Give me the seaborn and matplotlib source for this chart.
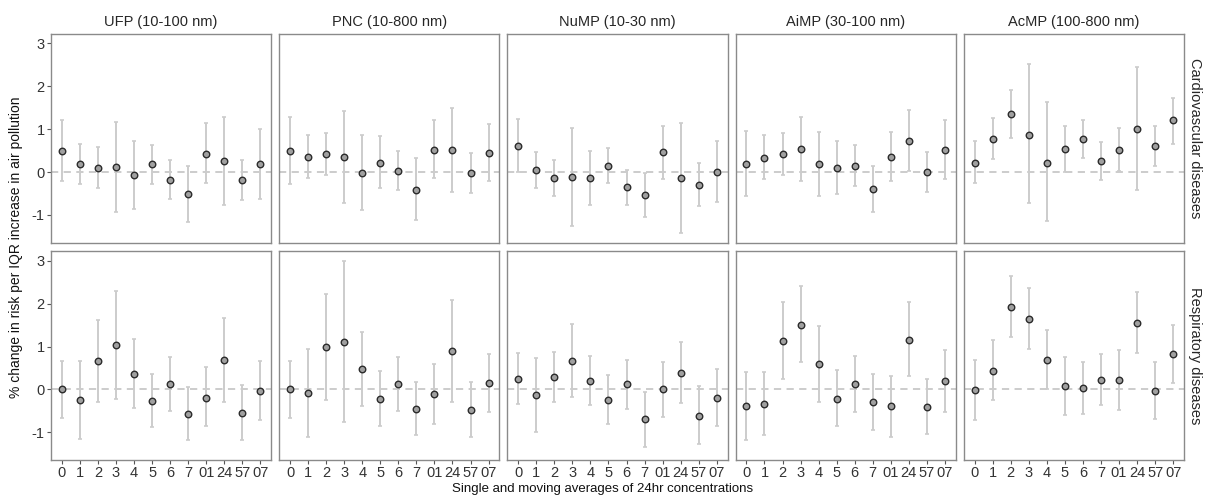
import pandas as pd
import seaborn as sns
from matplotlib import pyplot as plt

# lags (single day and moving averages)
lags = ["0", "1", "2", "3", "4", "5", "6", "7", "01", "24", "57", "07"]
pollutants = ["UFP (10-100 nm)", "PNC (10-800 nm)", "NuMP (10-30 nm)", "AiMP (30-100 nm)", "AcMP (100-800 nm)"]
outcomes = ["Cardiovascular diseases", "Respiratory diseases"]

# cardiovascular: estimate, lower, upper
ufp_cvd_est = [0.49, 0.18, 0.09, 0.12, -0.08, 0.18, -0.18, -0.52, 0.43, 0.25, -0.19, 0.19]
ufp_cvd_lo = [-0.22, -0.29, -0.37, -0.92, -0.86, -0.28, -0.62, -1.17, -0.25, -0.77, -0.65, -0.62]
ufp_cvd_hi = [1.22, 0.66, 0.57, 1.17, 0.72, 0.63, 0.28, 0.14, 1.13, 1.28, 0.27, 1.01]

pnc_cvd_est = [0.49, 0.35, 0.42, 0.35, -0.02, 0.22, 0.02, -0.41, 0.51, 0.52, -0.02, 0.44]
pnc_cvd_lo = [-0.29, -0.13, -0.08, -0.71, -0.89, -0.38, -0.43, -1.12, -0.15, -0.46, -0.48, -0.22]
pnc_cvd_hi = [1.27, 0.85, 0.90, 1.42, 0.86, 0.83, 0.49, 0.32, 1.20, 1.50, 0.44, 1.11]

nump_cvd_est = [0.60, 0.04, -0.13, -0.12, -0.15, 0.14, -0.35, -0.54, 0.46, -0.15, -0.30, 0.00]
nump_cvd_lo = [-0.01, -0.37, -0.55, -1.26, -0.77, -0.26, -0.76, -1.05, -0.16, -1.41, -0.79, -0.69]
nump_cvd_hi = [1.23, 0.47, 0.29, 1.03, 0.49, 0.56, 0.05, -0.02, 1.08, 1.13, 0.21, 0.71]

aimp_cvd_est = [0.19, 0.33, 0.42, 0.53, 0.18, 0.10, 0.14, -0.39, 0.35, 0.73, 0.00, 0.51]
aimp_cvd_lo = [-0.55, -0.17, -0.08, -0.21, -0.55, -0.52, -0.32, -0.92, -0.21, 0.02, -0.46, -0.16]
aimp_cvd_hi = [0.96, 0.85, 0.91, 1.27, 0.92, 0.73, 0.62, 0.15, 0.92, 1.44, 0.47, 1.20]

acmp_cvd_est = [0.22, 0.77, 1.34, 0.87, 0.22, 0.54, 0.77, 0.25, 0.52, 1.00, 0.61, 1.20]
acmp_cvd_lo = [-0.26, 0.31, 0.79, -0.73, -1.15, 0.01, 0.32, -0.19, 0.02, -0.41, 0.15, 0.66]
acmp_cvd_hi = [0.71, 1.25, 1.90, 2.52, 1.62, 1.08, 1.22, 0.69, 1.02, 2.44, 1.06, 1.73]

# respiratory: estimate, lower, upper
ufp_resp_est = [0.00, -0.25, 0.66, 1.03, 0.37, -0.26, 0.13, -0.57, -0.19, 0.69, -0.55, -0.03]
ufp_resp_lo = [-0.66, -1.14, -0.29, -0.23, -0.43, -0.88, -0.49, -1.17, -0.86, -0.29, -1.17, -0.71]
ufp_resp_hi = [0.67, 0.67, 1.62, 2.30, 1.18, 0.37, 0.76, 0.05, 0.52, 1.67, 0.10, 0.66]

pnc_resp_est = [0.00, -0.09, 0.98, 1.10, 0.47, -0.22, 0.12, -0.46, -0.11, 0.90, -0.48, 0.15]
pnc_resp_lo = [-0.66, -1.11, -0.24, -0.75, -0.39, -0.84, -0.51, -1.07, -0.81, -0.28, -1.11, -0.52]
pnc_resp_hi = [0.67, 0.94, 2.21, 2.99, 1.34, 0.42, 0.76, 0.17, 0.60, 2.09, 0.17, 0.82]

nump_resp_est = [0.25, -0.13, 0.29, 0.66, 0.20, -0.24, 0.12, -0.69, 0.00, 0.39, -0.62, -0.20]
nump_resp_lo = [-0.34, -0.98, -0.29, -0.18, -0.37, -0.81, -0.46, -1.33, -0.63, -0.32, -1.27, -0.85]
nump_resp_hi = [0.84, 0.73, 0.88, 1.53, 0.79, 0.34, 0.69, -0.05, 0.65, 1.11, 0.07, 0.47]

aimp_resp_est = [-0.39, -0.34, 1.13, 1.50, 0.59, -0.21, 0.12, -0.29, -0.39, 1.16, -0.41, 0.19]
aimp_resp_lo = [-1.17, -1.06, 0.24, 0.63, -0.29, -0.86, -0.52, -0.94, -1.10, 0.31, -1.04, -0.52]
aimp_resp_hi = [0.40, 0.40, 2.03, 2.40, 1.47, 0.46, 0.78, 0.35, 0.32, 2.03, 0.25, 0.93]

acmp_resp_est = [-0.02, 0.44, 1.92, 1.64, 0.69, 0.08, 0.04, 0.22, 0.22, 1.55, -0.04, 0.83]
acmp_resp_lo = [-0.71, -0.25, 1.22, 0.95, 0.02, -0.59, -0.56, -0.37, -0.47, 0.86, -0.69, 0.15]
acmp_resp_hi = [0.68, 1.16, 2.63, 2.35, 1.38, 0.75, 0.64, 0.83, 0.92, 2.26, 0.63, 1.51]

series = [
    (pollutants[0], outcomes[0], ufp_cvd_est, ufp_cvd_lo, ufp_cvd_hi),
    (pollutants[1], outcomes[0], pnc_cvd_est, pnc_cvd_lo, pnc_cvd_hi),
    (pollutants[2], outcomes[0], nump_cvd_est, nump_cvd_lo, nump_cvd_hi),
    (pollutants[3], outcomes[0], aimp_cvd_est, aimp_cvd_lo, aimp_cvd_hi),
    (pollutants[4], outcomes[0], acmp_cvd_est, acmp_cvd_lo, acmp_cvd_hi),
    (pollutants[0], outcomes[1], ufp_resp_est, ufp_resp_lo, ufp_resp_hi),
    (pollutants[1], outcomes[1], pnc_resp_est, pnc_resp_lo, pnc_resp_hi),
    (pollutants[2], outcomes[1], nump_resp_est, nump_resp_lo, nump_resp_hi),
    (pollutants[3], outcomes[1], aimp_resp_est, aimp_resp_lo, aimp_resp_hi),
    (pollutants[4], outcomes[1], acmp_resp_est, acmp_resp_lo, acmp_resp_hi),
]

rows = []
for pol, out, est, lo, hi in series:
    for lag, e, l, h in zip(lags, est, lo, hi):
        rows.append({"pollutant": pol, "outcome": out, "lag": lag, "est": e, "lo": l, "hi": h})
df = pd.DataFrame(rows)
df["pos"] = df["lag"].map({lag: i for i, lag in enumerate(lags)})

sns.set_theme(style="white")
plt.rcParams["font.family"] = ["Liberation Sans", "DejaVu Sans"]
plt.rcParams["axes.unicode_minus"] = False


def draw_panel(data, **kws):
    ax = plt.gca()
    ax.axhline(0, color="#c8c8c8", lw=1.3, ls=(0, (4, 3)), zorder=0)
    ax.errorbar(data["pos"], data["est"],
                yerr=[data["est"] - data["lo"], data["hi"] - data["est"]],
                fmt="none", ecolor="#cccccc", elinewidth=1.4, capsize=1.5,
                capthick=1.2, zorder=1)
    sns.scatterplot(data=data, x="pos", y="est", ax=ax, s=22, color="#a0a0a0",
                    edgecolor="#2b2b2b", linewidth=1.0, zorder=3)


g = sns.FacetGrid(df, row="outcome", col="pollutant", row_order=outcomes,
                  col_order=pollutants, margin_titles=True, sharex=True, sharey=True,
                  despine=False)
g.map_dataframe(draw_panel)
g.set_titles(col_template="{col_name}", row_template="{row_name}", size=10.5)
g.set_axis_labels("", "")
g.set(xlim=(-0.6, len(lags) - 0.4), ylim=(-1.64, 3.21))

for i in range(2):
    for j in range(5):
        ax = g.axes[i, j]
        ax.set_xticks(range(len(lags)))
        ax.set_xticklabels(lags)
        ax.set_yticks([-1, 0, 1, 2, 3])
        ax.tick_params(axis="both", length=3, width=0.8, color="#555555",
                       labelsize=10.5, labelcolor="#333333", pad=1.5,
                       bottom=(i == 1), left=(j == 0),
                       labelbottom=(i == 1), labelleft=(j == 0))
        for sp in ax.spines.values():
            sp.set_color("#8a8a8a")
            sp.set_linewidth(1.0)

g.figure.set_size_inches(12.05, 5.01)
g.figure.subplots_adjust(left=51 / 1205, right=1184 / 1205, top=1 - 34 / 501,
                         bottom=1 - 460 / 501, wspace=8 / 220, hspace=9 / 209)
g.figure.text(0.5, 0.012, "Single and moving averages of 24hr concentrations",
              ha="center", va="bottom", fontsize=9.5, color="#111111")
g.figure.text(0.013, (1 - 34 / 501 + 1 - 460 / 501) / 2,
              "% change in risk per IQR increase in air pollution",
              rotation=90, ha="center", va="center", fontsize=10, color="#111111")

plt.savefig("out.png", dpi=100)
plt.close()
